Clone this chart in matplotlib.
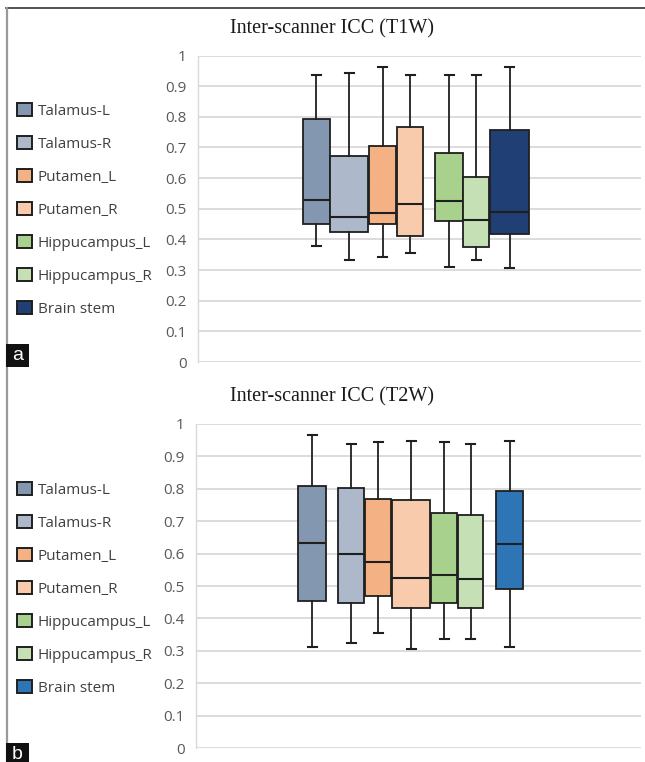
import matplotlib
matplotlib.use("Agg")
import matplotlib.pyplot as plt
from matplotlib.patches import Patch, Rectangle
from matplotlib.lines import Line2D

# ---------------- data ----------------
regions = ["Talamus-L", "Talamus-R", "Putamen_L", "Putamen_R",
           "Hippucampus_L", "Hippucampus_R", "Brain stem"]
y_ticks = [0, 0.1, 0.2, 0.3, 0.4, 0.5, 0.6, 0.7, 0.8, 0.9, 1]
y_tick_labels = ["0", "0.1", "0.2", "0.3", "0.4", "0.5", "0.6", "0.7", "0.8", "0.9", "1"]

t1_min = [0.378, 0.333, 0.343, 0.355, 0.310, 0.333, 0.307]
t1_q1 = [0.450, 0.423, 0.450, 0.410, 0.459, 0.374, 0.418]
t1_med = [0.527, 0.473, 0.486, 0.514, 0.524, 0.464, 0.491]
t1_q3 = [0.794, 0.673, 0.704, 0.767, 0.681, 0.603, 0.757]
t1_max = [0.938, 0.943, 0.962, 0.935, 0.938, 0.938, 0.962]

t2_min = [0.311, 0.323, 0.356, 0.307, 0.337, 0.337, 0.311]
t2_q1 = [0.454, 0.446, 0.469, 0.433, 0.446, 0.433, 0.492]
t2_med = [0.633, 0.598, 0.575, 0.525, 0.533, 0.521, 0.630]
t2_q3 = [0.810, 0.802, 0.769, 0.765, 0.726, 0.718, 0.794]
t2_max = [0.966, 0.937, 0.943, 0.949, 0.943, 0.937, 0.946]

titles = ["Inter-scanner ICC (T1W)", "Inter-scanner ICC (T2W)"]
panel_labels = ["a", "b"]

# ---------------- layout / style ----------------
W, H = 645, 762
colors_t1 = ["#8497B0", "#ADB9CA", "#F4B183", "#F8CBAD", "#A9D18E", "#C5E0B4", "#203F75"]
colors_t2 = ["#8497B0", "#ADB9CA", "#F4B183", "#F8CBAD", "#A9D18E", "#C5E0B4", "#2E75B6"]
# box centres / widths in pixel-like x units inside each axes
pos_t1 = [118, 151, 184.5, 212, 251, 278, 311.5]
wid_t1 = [27, 38, 27, 26, 28, 26, 39]
pos_t2 = [116, 155, 182, 215, 248, 274.5, 313.5]
wid_t2 = [28, 26, 26, 38, 26, 25, 27]

def fx(x):
    return x / W

def fy(y):
    return 1 - y / H

fig = plt.figure(figsize=(W / 100, H / 100), dpi=100)
fig.patch.set_facecolor("white")

panels = [
    dict(left=198, right=641, top=55.5, bottom=362, title_y=29, leg_top=103,
         lab_y0=344, lab_y1=367,
         stats=(t1_min, t1_q1, t1_med, t1_q3, t1_max), pos=pos_t1, wid=wid_t1, colors=colors_t1),
    dict(left=196, right=641, top=424, bottom=748, title_y=397, leg_top=482,
         lab_y0=743, lab_y1=766,
         stats=(t2_min, t2_q1, t2_med, t2_q3, t2_max), pos=pos_t2, wid=wid_t2, colors=colors_t2),
]

edge = "#1f1f1f"
for i, p in enumerate(panels):
    ax = fig.add_axes([fx(p["left"]), fy(p["bottom"]),
                       fx(p["right"]) - fx(p["left"]), (p["bottom"] - p["top"]) / H])
    mn, q1, med, q3, mx = p["stats"]
    bstats = [dict(whislo=mn[k], q1=q1[k], med=med[k], q3=q3[k], whishi=mx[k], fliers=[],
                   label=regions[k]) for k in range(len(regions))]
    bp = ax.bxp(bstats, positions=p["pos"], widths=p["wid"], capwidths=9,
                patch_artist=True, showfliers=False,
                boxprops=dict(edgecolor=edge, linewidth=1.3),
                medianprops=dict(color=edge, linewidth=1.5),
                whiskerprops=dict(color=edge, linewidth=1.3),
                capprops=dict(color=edge, linewidth=1.5),
                manage_ticks=False)
    for patch, c in zip(bp["boxes"], p["colors"]):
        patch.set_facecolor(c)
    for el in ["boxes", "medians", "whiskers", "caps"]:
        for a in bp[el]:
            a.set_zorder(3)

    ax.set_xlim(0, p["right"] - p["left"])
    ax.set_ylim(0, 1)
    ax.set_yticks(y_ticks)
    ax.set_yticklabels(y_tick_labels, fontfamily="Open Sans", fontsize=11, color="#595959")
    ax.set_xticks([])
    ax.tick_params(axis="y", length=0, pad=8)
    for s in ["top", "right", "bottom"]:
        ax.spines[s].set_visible(False)
    ax.spines["left"].set_color("#D9D9D9")
    ax.spines["left"].set_linewidth(1.0)
    ax.grid(axis="y", color="#D9D9D9", linewidth=1.3)
    ax.set_axisbelow(True)

    fig.text(fx(332), fy(p["title_y"]), titles[i], ha="center", va="center",
             fontfamily="Liberation Serif", fontsize=14.5, color="#1a1a1a")

    handles = [Patch(facecolor=c, edgecolor=edge, linewidth=1.4) for c in p["colors"]]
    leg = fig.legend(handles, regions, loc="upper left",
                     bbox_to_anchor=(fx(17), fy(p["leg_top"])),
                     frameon=False, prop=dict(family="Open Sans", size=11),
                     handlelength=0.95, handleheight=0.95, handletextpad=0.42,
                     labelspacing=1.12, borderaxespad=0, borderpad=0)
    for t in leg.get_texts():
        t.set_color("#404040")

    # panel label
    fig.patches.append(Rectangle((fx(6), fy(p["lab_y1"])), fx(29) - fx(6),
                                 (p["lab_y1"] - p["lab_y0"]) / H,
                                 transform=fig.transFigure, facecolor="#111111",
                                 edgecolor="none", zorder=5))
    fig.text(fx(17.5), fy((p["lab_y0"] + p["lab_y1"]) / 2), panel_labels[i],
             ha="center", va="center", color="white", fontfamily="Liberation Sans",
             fontsize=14, zorder=6)

# frame lines
fig.add_artist(Line2D([fx(6), fx(645)], [fy(8), fy(8)], color="#333333", linewidth=1.2,
                      transform=fig.transFigure))
fig.add_artist(Line2D([fx(7), fx(7)], [fy(8), fy(762)], color="#999999", linewidth=1.6,
                      transform=fig.transFigure))

fig.savefig("out.png", dpi=100)
